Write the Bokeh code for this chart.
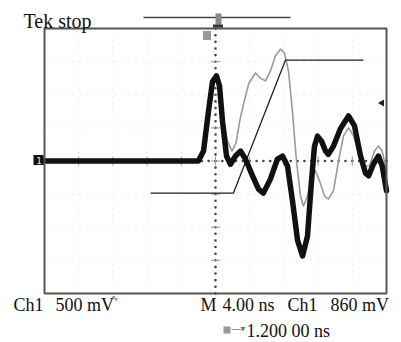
import numpy as np
from bokeh.plotting import figure
from bokeh.models import Range1d, Label
from bokeh.embed import file_html
from bokeh.resources import INLINE

# ---------------- data (time in ns, amplitude in divisions) ----------------
ch1_time_ns = [-20, -2.0, -1.4, -0.82, -0.35, 0.12, 0.47, 0.82, 1.29, 1.75,
               2.34, 2.92, 3.5, 4.33, 5.03, 5.6, 6.43, 7.25, 7.84, 8.42,
               9.0, 9.6, 10.18, 10.76, 11.23, 11.58, 11.93, 12.4, 12.87, 13.2,
               13.8, 14.6, 15.56, 16.26, 16.96, 17.54, 17.9, 18.48, 19.06, 19.5,
               20.0]
ch1_div = [0, 0, 0.3, 1.5, 2.4, 2.57, 2.27, 1.2, 0.15, -0.1,
           0.15, 0.3, 0.06, -0.45, -0.85, -0.97, -0.54, 0.06, 0.15, -0.15,
           -1.2, -2.4, -2.87, -2.27, -0.6, 0.45, 0.75, 0.6, 0.3, 0.2,
           0.45, 0.97, 1.36, 1.06, 0.15, -0.36, -0.45, -0.09, 0.15, -0.15,
           -0.9]

ref_time_ns = [-20, -2.0, -1.4, -0.82, -0.35, 0.12, 0.47, 0.9, 1.4, 1.93,
               2.4, 2.9, 3.4, 3.9, 4.68, 5.26, 5.85, 6.43, 7.0, 7.6,
               8.07, 8.54, 9.0, 9.47, 9.94, 10.29, 10.76, 11.23, 11.7, 12.16,
               12.75, 13.2, 13.8, 14.39, 14.97, 15.56, 16.14, 16.73, 17.43, 18.0,
               18.6, 19.06, 19.5, 20.0]
ref_div = [0, 0, 0.3, 1.5, 2.4, 2.57, 2.27, 1.3, 0.6, 0.3,
           0.55, 1.3, 1.85, 2.35, 2.66, 2.5, 2.42, 2.72, 3.17, 3.38,
           3.26, 2.72, 1.5, 0, -1.06, -1.36, -1.06, -0.45, -0.3, -0.6,
           -1.06, -1.15, -0.9, 0, 0.76, 1.0, 0.76, 0.24, -0.15, -0.15,
           0.3, 0.45, 0.3, -0.3]

ramp_time_ns = [-7.6, 2.1, 8.19, 17.3]
ramp_div = [-0.97, -0.97, 3.05, 3.05]

# graticule: 10 x 8 divisions, 4 ns/div
NS_PER_DIV = 4.0
H_DIVS = 10
V_DIVS = 8

# ---------------- layout (page pixels -> data) ----------------
W, H = 401, 342
PAGE = 0
PX_PER_NS = 8.55
PX_PER_DIV = 33.1
X0_PAGE = 215.0
Y0_PAGE = 160.5


def tx(px):
    return (px - X0_PAGE) / PX_PER_NS


def vy(py):
    return (Y0_PAGE - py) / PX_PER_DIV


p = figure(width=W, height=H, output_backend="svg", toolbar_location=None,
           x_range=Range1d(tx(PAGE), tx(PAGE + W)),
           y_range=Range1d(vy(PAGE + H), vy(PAGE)),
           x_axis_type=None, y_axis_type=None, min_border=0)
p.outline_line_color = None
p.background_fill_color = "white"
p.border_fill_color = "white"

XMAX = H_DIVS / 2 * NS_PER_DIV
YMAX = V_DIVS / 2

# faint grid
gx = [t for t in np.arange(-XMAX + NS_PER_DIV, XMAX, NS_PER_DIV) if abs(t) > 1e-9]
gy = [v for v in np.arange(-YMAX + 1, YMAX, 1.0) if abs(v) > 1e-9]
p.multi_line(xs=[[t, t] for t in gx], ys=[[-YMAX, YMAX]] * len(gx),
             line_color="#dcdcdc", line_width=1, line_dash="1 6")
p.multi_line(xs=[[-XMAX, XMAX]] * len(gy), ys=[[v, v] for v in gy],
             line_color="#dcdcdc", line_width=1, line_dash="1 6")

# center crosshair dots
vdots = np.arange(-YMAX, YMAX + 1e-9, 0.2)
hdots = np.arange(-XMAX, XMAX + 1e-9, NS_PER_DIV / 5)
p.scatter(x=[0] * len(vdots), y=vdots, marker="circle", size=2.6,
          fill_color="#444", line_color=None)
p.scatter(x=hdots, y=[0] * len(hdots), marker="circle", size=2.6,
          fill_color="#444", line_color=None)
majv = np.arange(-YMAX + 1, YMAX, 1.0)
p.scatter(x=[0] * len(majv), y=majv, marker="dash", size=9,
          line_color="#999", line_width=1)
majh = np.arange(-XMAX + NS_PER_DIV, XMAX, NS_PER_DIV)
p.scatter(x=majh, y=[0] * len(majh), marker="dash", angle=np.pi / 2, size=9,
          line_color="#999", line_width=1)

# traces
p.line(ref_time_ns, ref_div, line_color="#9a9a9a", line_width=1.6, line_join="round")
p.line(ramp_time_ns, ramp_div, line_color="#222222", line_width=1.3)
p.line(ch1_time_ns, ch1_div, line_color="#111111", line_width=5.5,
       line_join="round", line_cap="round")

# graticule box
p.quad(left=-XMAX, right=XMAX, bottom=-YMAX, top=YMAX, fill_color=None,
       line_color="#555555", line_width=2)

# top record bar and trigger icons
p.line([tx(143), tx(290)], [vy(17), vy(17)], line_color="#444", line_width=1.5)
p.rect(x=tx(218), y=vy(18.5), width=6, height=11, width_units="screen",
       height_units="screen", fill_color="#8a8a8a", line_color=None)
p.rect(x=tx(217.5), y=vy(25.5), width=10, height=3, width_units="screen",
       height_units="screen", fill_color="#333", line_color=None)
p.rect(x=tx(206.5), y=vy(35), width=8, height=9, width_units="screen",
       height_units="screen", fill_color="#999", line_color=None)

# channel ground marker
p.rect(x=tx(38), y=vy(159.5), width=10, height=10, width_units="screen",
       height_units="screen", fill_color="#111", line_color=None)
p.add_layout(Label(x=tx(36), y=vy(159.5), text="1", text_color="white",
                   text_font_size="8px", text_baseline="middle",
                   text_font="DejaVu Sans"))

# trigger level marker
p.scatter(x=[tx(381.5)], y=[vy(102.5)], marker="triangle", angle=np.pi / 2,
          size=7, fill_color="#222", line_color=None)

SERIF = "Liberation Serif"


def lab(px, py, txt, size="18px", color="#111"):
    p.add_layout(Label(x=tx(px), y=vy(py), text=txt, text_font=SERIF,
                       text_font_size=size, text_color=color,
                       text_baseline="alphabetic"))


lab(23, 20, "Tek stop", "20px")
lab(13, 304.5, "Ch1")
lab(55, 304.5, "500 mV")
lab(110, 297, "\u223f", "9px", "#555")
lab(200, 304.5, "M")
lab(222, 304.5, "4.00 ns")
lab(287, 304.5, "Ch1")
lab(330, 304.5, "860 mV")
lab(246, 330, "1.200 00 ns", "18px")

# horizontal position icon
p.rect(x=tx(226.5), y=vy(329.5), width=7, height=7, width_units="screen",
       height_units="screen", fill_color="#999", line_color=None)
p.line([tx(231), tx(241)], [vy(329), vy(329)], line_color="#999", line_width=1)
p.scatter(x=[tx(242.5)], y=[vy(328)], marker="triangle", angle=np.pi,
          size=5, fill_color="#777", line_color=None)

open("out.html", "w").write(file_html(p, INLINE))
